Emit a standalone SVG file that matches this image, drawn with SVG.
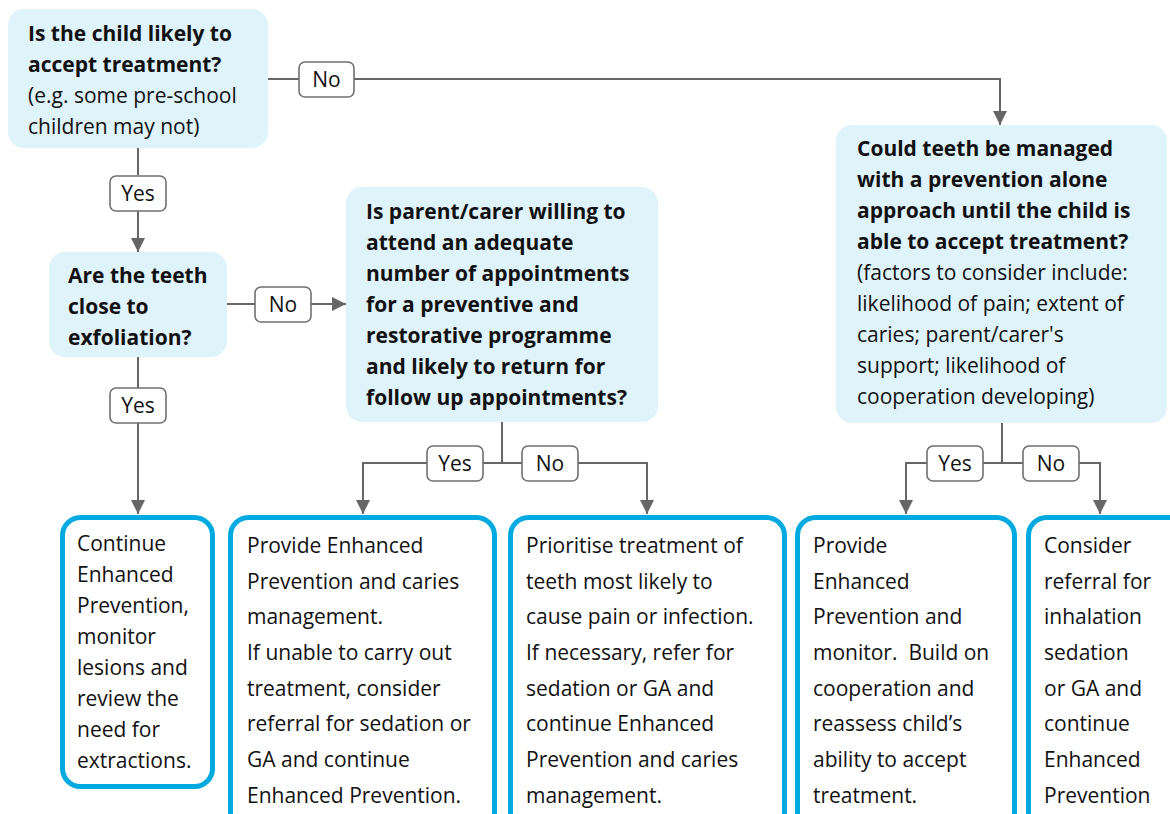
<svg xmlns="http://www.w3.org/2000/svg" width="1170" height="814" viewBox="0 0 1170 814">
<style>
.q{fill:#dff3fa}
.r{fill:#fff;stroke:#00a9e0;stroke-width:5}
.lb{fill:#fff;stroke:#707070;stroke-width:1.6}
.c{fill:none;stroke:#666;stroke-width:2}
text{font-family:"Open Sans","Liberation Sans",sans-serif;font-size:21px;fill:#111}
.b{font-weight:bold}
.m{text-anchor:middle}
</style>
<defs>
<marker id="ah" markerUnits="userSpaceOnUse" markerWidth="14" markerHeight="14" refX="14" refY="7" orient="auto">
<path d="M0,0 L14,7 L0,14 z" fill="#666"/>
</marker>
</defs>
<rect width="1170" height="814" fill="#fff"/>
<g id="connectors">
<path class="c" d="M268,79 H299"/>
<path class="c" d="M354,79 H1000 V125" marker-end="url(#ah)"/>
<path class="c" d="M138,148 V175"/>
<path class="c" d="M138,211 V252" marker-end="url(#ah)"/>
<path class="c" d="M227,304 H255"/>
<path class="c" d="M311,304 H346" marker-end="url(#ah)"/>
<path class="c" d="M138,357 V388"/>
<path class="c" d="M138,423 V514" marker-end="url(#ah)"/>
<path class="c" d="M502,422 V463 H483"/>
<path class="c" d="M427,463 H363 V514" marker-end="url(#ah)"/>
<path class="c" d="M502,463 H522"/>
<path class="c" d="M578,463 H647 V514" marker-end="url(#ah)"/>
<path class="c" d="M1002,423 V463 H983"/>
<path class="c" d="M927,463 H906 V514" marker-end="url(#ah)"/>
<path class="c" d="M1002,463 H1023"/>
<path class="c" d="M1079,463 H1100 V514" marker-end="url(#ah)"/>
<g id="labels">
<rect class="lb" x="299" y="62" width="55" height="35" rx="6"/><text class="m" x="326.5" y="87">No</text>
<rect class="lb" x="110" y="176" width="56" height="35" rx="6"/><text class="m" x="138" y="201">Yes</text>
<rect class="lb" x="255" y="287" width="56" height="35" rx="6"/><text class="m" x="283" y="312">No</text>
<rect class="lb" x="110" y="388" width="56" height="35" rx="6"/><text class="m" x="138" y="413">Yes</text>
<rect class="lb" x="427" y="446" width="56" height="35" rx="6"/><text class="m" x="455" y="471">Yes</text>
<rect class="lb" x="522" y="446" width="56" height="35" rx="6"/><text class="m" x="550" y="471">No</text>
<rect class="lb" x="927" y="446" width="56" height="35" rx="6"/><text class="m" x="955" y="471">Yes</text>
<rect class="lb" x="1023" y="446" width="56" height="35" rx="6"/><text class="m" x="1051" y="471">No</text>
</g>
</g>
<g id="q1">
<rect class="q" x="8" y="9" width="260" height="139" rx="16"/>
<text class="b" x="28" y="41">Is the child likely to</text>
<text class="b" x="28" y="72">accept treatment?</text>
<text x="28" y="103">(e.g. some pre-school</text>
<text x="28" y="134">children may not)</text>
</g>
<g id="q2">
<rect class="q" x="49" y="252" width="178" height="105" rx="16"/>
<text class="b" x="68" y="283">Are the teeth</text>
<text class="b" x="68" y="314">close to</text>
<text class="b" x="68" y="345">exfoliation?</text>
</g>
<g id="q3">
<rect class="q" x="346" y="187" width="312" height="235" rx="16"/>
<text class="b" x="366" y="219">Is parent/carer willing to</text>
<text class="b" x="366" y="250">attend an adequate</text>
<text class="b" x="366" y="281">number of appointments</text>
<text class="b" x="366" y="312">for a preventive and</text>
<text class="b" x="366" y="343">restorative programme</text>
<text class="b" x="366" y="374">and likely to return for</text>
<text class="b" x="366" y="405">follow up appointments?</text>
</g>
<g id="q4">
<rect class="q" x="836" y="125" width="331" height="298" rx="16"/>
<text class="b" x="857" y="156">Could teeth be managed</text>
<text class="b" x="857" y="187">with a prevention alone</text>
<text class="b" x="857" y="218">approach until the child is</text>
<text class="b" x="857" y="249">able to accept treatment?</text>
<text x="857" y="280">(factors to consider include:</text>
<text x="857" y="311">likelihood of pain; extent of</text>
<text x="857" y="342">caries; parent/carer's</text>
<text x="857" y="373">support; likelihood of</text>
<text x="857" y="404">cooperation developing)</text>
</g>
<g id="r1">
<rect class="r" x="62.5" y="517.5" width="150" height="269" rx="18"/>
<text x="77" y="551">Continue</text>
<text x="77" y="582">Enhanced</text>
<text x="77" y="613">Prevention,</text>
<text x="77" y="644">monitor</text>
<text x="77" y="675">lesions and</text>
<text x="77" y="706">review the</text>
<text x="77" y="737">need for</text>
<text x="77" y="768">extractions.</text>
</g>
<g id="r2">
<rect class="r" x="230.5" y="517.5" width="264" height="330" rx="18"/>
<text x="247" y="553">Provide Enhanced</text>
<text x="247" y="589">Prevention and caries</text>
<text x="247" y="624">management.</text>
<text x="247" y="660">If unable to carry out</text>
<text x="247" y="696">treatment, consider</text>
<text x="247" y="731">referral for sedation or</text>
<text x="247" y="767">GA and continue</text>
<text x="247" y="803">Enhanced Prevention.</text>
</g>
<g id="r3">
<rect class="r" x="510.5" y="517.5" width="274" height="330" rx="18"/>
<text x="526" y="553">Prioritise treatment of</text>
<text x="526" y="589">teeth most likely to</text>
<text x="526" y="624">cause pain or infection.</text>
<text x="526" y="660">If necessary, refer for</text>
<text x="526" y="696">sedation or GA and</text>
<text x="526" y="731">continue Enhanced</text>
<text x="526" y="767">Prevention and caries</text>
<text x="526" y="803">management.</text>
</g>
<g id="r4">
<rect class="r" x="797.5" y="517.5" width="217" height="330" rx="18"/>
<text x="813" y="553">Provide</text>
<text x="813" y="589">Enhanced</text>
<text x="813" y="624">Prevention and</text>
<text x="813" y="660">monitor.&#160; Build on</text>
<text x="813" y="696">cooperation and</text>
<text x="813" y="731">reassess child’s</text>
<text x="813" y="767">ability to accept</text>
<text x="813" y="803">treatment.</text>
</g>
<g id="r5">
<rect class="r" x="1028.5" y="517.5" width="170" height="330" rx="18"/>
<text x="1044" y="553">Consider</text>
<text x="1044" y="589">referral for</text>
<text x="1044" y="624">inhalation</text>
<text x="1044" y="660">sedation</text>
<text x="1044" y="696">or GA and</text>
<text x="1044" y="731">continue</text>
<text x="1044" y="767">Enhanced</text>
<text x="1044" y="803">Prevention</text>
</g>
</svg>
